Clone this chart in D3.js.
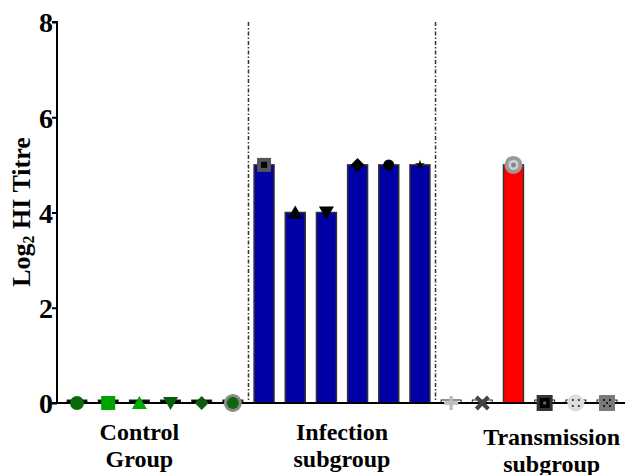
<!DOCTYPE html>
<html><head><meta charset="utf-8">
<script src="https://cdn.jsdelivr.net/npm/d3@7"></script>
<style>body{margin:0;background:#fff}svg{display:block}</style>
</head><body>
<script>
// ---- data ----
const groups = ["Control\nGroup", "Infection\nsubgroup", "Transmission\nsubgroup"];
const animals = ["C1","C2","C3","C4","C5","C6","I1","I2","I3","I4","I5","I6","T1","T2","T3","T4","T5","T6"];
const animalGroup = [0,0,0,0,0,0,1,1,1,1,1,1,2,2,2,2,2,2];
const titres = [0,0,0,0,0,0, 5,4,4,5,5,5, 0,0,5,0,0,0];
const yTicks = [0,2,4,6,8];
// marker key per animal
const markers = ["circle","square","triUp","triDown","diamond","ringCircle",
                 "sqDot","triUp","triDown","diamond","circleSmall","star",
                 "plus","cross","ringCircle2","sqNested","dotCircle","dotSquare"];
const markerColors = ["#0b680b","#00a300","#00aa00","#0a5e0a","#0d5c0d","#0b680b",
                      "#555555","#000","#000","#000","#000","#000",
                      "#bdbdbd","#444444","#9a9a9a","#333333","#dddddd","#7a7a7a"];
const barFill = ["#000000","#0000a6","#ff0000"];

const W=625,H=475;
const FONT="Liberation Serif, Times New Roman, serif";
const svg=d3.select("body").append("svg").attr("width",W).attr("height",H);
const y=d3.scaleLinear().domain([0,8]).range([403,22]);
const step=(607-77)/17;
const x=d3.scaleBand().domain(animals).range([77-step/2,607+step/2]).paddingInner(0.36).paddingOuter(0.18);
const cxOf=i=>x(animals[i])+x.bandwidth()/2;

// dividers
[6,12].forEach(i=>{
  const xm=(cxOf(i-1)+cxOf(i))/2;
  svg.append("line").attr("x1",xm).attr("x2",xm).attr("y1",y(8)).attr("y2",y(0))
    .attr("stroke","#333").attr("stroke-width",1.5).attr("stroke-dasharray","4,2,1.5,2");
});

// bars
svg.selectAll("rect.bar").data(titres).join("rect").attr("class","bar")
  .attr("x",(d,i)=>x(animals[i])).attr("width",x.bandwidth())
  .attr("y",d=>d>0?y(d):y(0)-3).attr("height",d=>d>0?y(0)-y(d):3)
  .attr("fill",(d,i)=>d>0?barFill[animalGroup[i]]:(animalGroup[i]===0?"#000":"#fff"))
  .attr("stroke",(d,i)=>d>0?"#333":"#222").attr("stroke-width",(d)=>d>0?1.5:1);

// axes
const yAxis=d3.axisLeft(y).tickValues(yTicks).tickSize(5).tickFormat(d3.format("d"));
const gy=svg.append("g").attr("transform","translate(57,0)").call(yAxis);
gy.select(".domain").attr("stroke","#000").attr("stroke-width",2).attr("d","M-5,"+y(8)+"H0V"+y(0)+"H-5");
gy.selectAll(".tick line").attr("stroke","#000").attr("stroke-width",2);
gy.selectAll(".tick text").attr("font-family",FONT)
  .attr("font-weight","bold").attr("font-size",28).attr("fill","#000").attr("x",-4).attr("dy","0.35em");
svg.append("line").attr("x1",56).attr("x2",625).attr("y1",y(0)).attr("y2",y(0))
  .attr("stroke","#000").attr("stroke-width",2);

// y title
const yt=svg.append("text").attr("transform","translate(30,212) rotate(-90)")
  .attr("text-anchor","middle").attr("font-family",FONT)
  .attr("font-weight","bold").attr("font-size",26).attr("fill","#000");
yt.append("tspan").text("Log");
yt.append("tspan").attr("font-size",16).attr("dy",4).text("2");
yt.append("tspan").attr("dy",-4).text(" HI Titre");

// group labels
const labelAnchor=[[2,2],[8,9],[15,15]]; // label centred over these bars' centres
const labelShift=[0,0,7];
groups.forEach((g,gi)=>{
  const cx=(cxOf(labelAnchor[gi][0])+cxOf(labelAnchor[gi][1]))/2+labelShift[gi];
  const base = gi===2?445:440;
  const t=svg.append("text").attr("text-anchor","middle")
    .attr("font-family",FONT).attr("font-weight","bold")
    .attr("font-size",24).attr("fill","#000");
  g.split("\n").forEach((line,li)=>t.append("tspan").attr("x",cx).attr("y",base+li*27).text(line));
});

// markers
const sym=(type,size)=>d3.symbol().type(type).size(size)();
titres.forEach((v,i)=>{
  const cx=cxOf(i), cy=y(v);
  const g=svg.append("g").attr("transform",`translate(${cx},${cy})`);
  const c=markerColors[i], m=markers[i];
  if(m==="circle") g.append("circle").attr("r",7).attr("fill",c);
  else if(m==="square") g.append("rect").attr("x",-7).attr("y",-7).attr("width",14).attr("height",14).attr("fill",c);
  else if(m==="triUp") g.append("path").attr("d","M0,-7L7.5,6L-7.5,6Z").attr("fill",c);
  else if(m==="triDown") g.append("path").attr("d","M0,7L7.5,-6L-7.5,-6Z").attr("fill",c);
  else if(m==="diamond") g.append("path").attr("d","M0,-7L7,0L0,7L-7,0Z").attr("fill",c);
  else if(m==="ringCircle"){ g.append("circle").attr("r",9).attr("fill","#8a8a8a"); g.append("circle").attr("r",6).attr("fill",c);}
  else if(m==="sqDot"){ g.append("rect").attr("x",-7).attr("y",-7).attr("width",14).attr("height",14).attr("fill",c); g.append("rect").attr("x",-3).attr("y",-3).attr("width",6).attr("height",6).attr("fill","#000");}
  else if(m==="circleSmall") g.append("circle").attr("r",5.5).attr("fill",c);
  else if(m==="star") g.append("path").attr("d",sym(d3.symbolStar,30)).attr("fill",c);
  else if(m==="plus") g.append("path").attr("d","M-7,0H7M0,-7V7").attr("stroke",c).attr("stroke-width",3.5);
  else if(m==="cross") g.append("path").attr("d","M-6,-6L6,6M6,-6L-6,6").attr("stroke",c).attr("stroke-width",4);
  else if(m==="ringCircle2"){ g.append("circle").attr("r",9).attr("fill",c); g.append("circle").attr("r",5).attr("fill","#d0d0d0"); g.append("circle").attr("r",2.5).attr("fill","#888");}
  else if(m==="sqNested"){ g.append("rect").attr("x",-8).attr("y",-8).attr("width",16).attr("height",16).attr("fill",c); g.append("rect").attr("x",-5).attr("y",-5).attr("width",10).attr("height",10).attr("fill","#000"); g.append("rect").attr("x",-1.5).attr("y",-1.5).attr("width",3).attr("height",3).attr("fill","#666");}
  else if(m==="dotCircle"){ g.append("circle").attr("r",8.5).attr("fill",c); [[-3,-3],[3,-3],[-3,3],[3,3]].forEach(p=>g.append("circle").attr("cx",p[0]).attr("cy",p[1]).attr("r",1.1).attr("fill","#222"));}
  else if(m==="dotSquare"){ g.append("rect").attr("x",-8).attr("y",-8).attr("width",16).attr("height",16).attr("fill",c); [[-3,-3],[3,-3],[-3,3],[3,3],[0,0]].forEach(p=>g.append("rect").attr("x",p[0]-1).attr("y",p[1]-1).attr("width",2).attr("height",2).attr("fill","#222"));}
});
</script>
</body></html>
